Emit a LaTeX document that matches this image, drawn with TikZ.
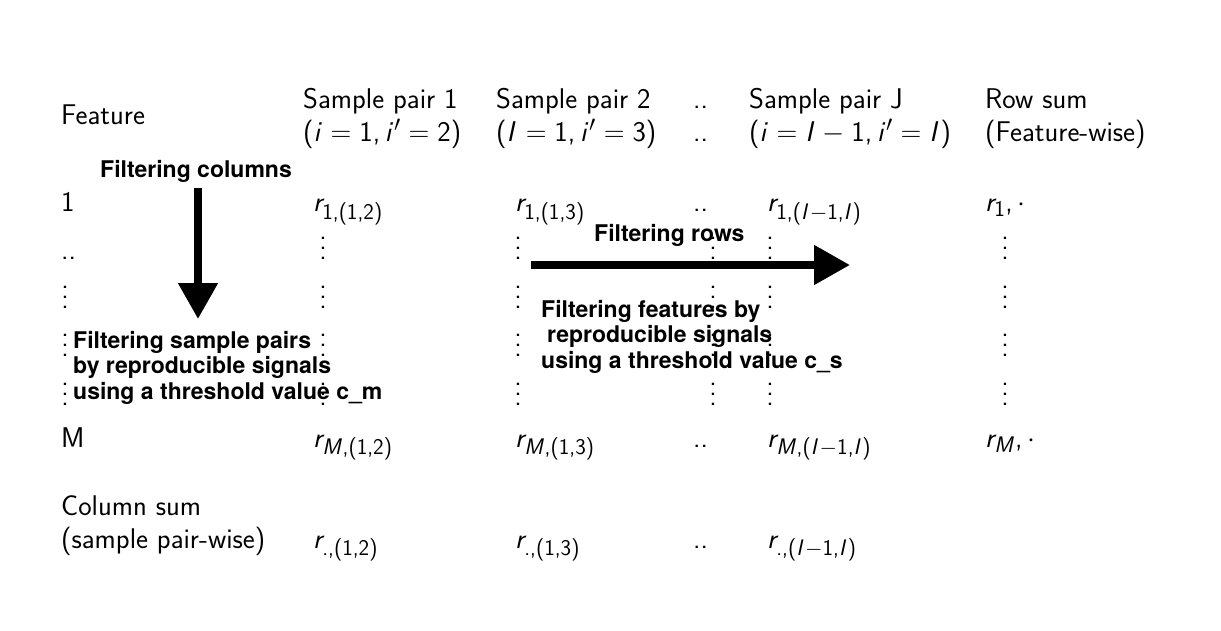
\documentclass[tikz,border=0pt]{standalone}
\usepackage{fix-cm}
\usepackage[no-math]{fontspec}
\usetikzlibrary{arrows.meta}
\newfontfamily\helv{TeX Gyre Heros}
% sans-serif math
\DeclareSymbolFont{sfops}{OT1}{cmss}{m}{n}
\DeclareSymbolFont{sflet}{OT1}{cmss}{m}{sl}
\SetSymbolFont{operators}{normal}{OT1}{cmss}{m}{n}
\DeclareMathSymbol{i}{\mathalpha}{sflet}{`i}
\DeclareMathSymbol{I}{\mathalpha}{sflet}{`I}
\DeclareMathSymbol{r}{\mathalpha}{sflet}{`r}
\DeclareMathSymbol{M}{\mathalpha}{sflet}{`M}
\DeclareMathSymbol{,}{\mathpunct}{sfops}{`,}
\DeclareMathSymbol{.}{\mathord}{sfops}{`.}
\DeclareMathSizes{28.5}{28.5}{22.5}{17}
\newcommand{\vdd}{\vbox{\baselineskip=10pt\lineskiplimit=-10pt\hbox{.}\hbox{.}\hbox{.}}}
\tikzset{
 tx/.style={anchor=base west, inner sep=0pt, font=\sffamily\fontsize{28.5}{33}\selectfont},
 lbl/.style={anchor=base west, inner sep=0pt, font=\helv\bfseries\fontsize{23}{26}\selectfont},
 vd/.style={inner sep=0pt, font=\sffamily\fontsize{28.5}{33}\selectfont},
 bigarrow/.style={line width=8pt, -{Triangle[length=36pt,width=38pt]}}
}
\begin{document}
\begin{tikzpicture}[x=1pt,y=-1pt]
\fill[white] (0,0) rectangle (1221,631);
\useasboundingbox (0,0) rectangle (1221,631);
% header
\node[tx] (feat) at (61,125) {Feature};
\node[tx] (h1a) at (303,109) {Sample pair 1};
\node[tx] (h1b) at (303,142) {$(i=1, i'=2)$};
\node[tx] (h2a) at (496,109) {Sample pair 2};
\node[tx] (h2b) at (496,142) {$(I=1, i'=3)$};
\node[tx] (hda) at (693,109) {..};
\node[tx] (hdb) at (693,142) {..};
\node[tx] (hja) at (749,109) {Sample pair J};
\node[tx] (hjb) at (749,142) {$(i=I-1, i'=I)$};
\node[tx] (hra) at (985,109) {Row sum};
\node[tx] (hrb) at (985,142) {(Feature-wise)};
% row 1
\node[tx] (f1) at (61,212) {1};
\node[tx] (r11) at (313,212) {$r_{1,(1,2)}$};
\node[tx] (r12) at (515,212) {$r_{1,(1,3)}$};
\node[tx] (r1d) at (693,212) {..};
\node[tx] (r1j) at (767,212) {$r_{1,(I-1,I)}$};
\node[tx] (r1s) at (985,212) {$r_{1},\cdot$};
% row 2 dots
\node[tx] (f2) at (61,259) {..};
% vertical dots
\foreach \c/\x in {a/323,b/518,c/713,d/770,e/1005}{
  \foreach \r/\y in {2/248,3/297,4/345,5/394}{
    \node[vd] (v\c\r) at (\x,\y) {\vdd};
  }
}
\foreach \r/\y in {3/297,4/345,5/394}{
  \node[vd] (vf\r) at (65,\y) {\vdd};
}
% row M
\node[tx] (fm) at (61,447) {M};
\node[tx] (rm1) at (313,447) {$r_{M,(1,2)}$};
\node[tx] (rm2) at (515,447) {$r_{M,(1,3)}$};
\node[tx] (rmd) at (693,447) {..};
\node[tx] (rmj) at (767,447) {$r_{M,(I-1,I)}$};
\node[tx] (rms) at (985,447) {$r_{M},\cdot$};
% column sums
\node[tx] (csa) at (61,515) {Column sum};
\node[tx] (csb) at (61,548) {(sample pair-wise)};
\node[tx] (rc1) at (313,548) {$r_{.,(1,2)}$};
\node[tx] (rc2) at (515,548) {$r_{.,(1,3)}$};
\node[tx] (rcd) at (693,548) {..};
\node[tx] (rcj) at (767,548) {$r_{.,(I-1,I)}$};
% labels
\node[lbl] (fc) at (100,178) {Filtering columns};
\node[lbl] (fr) at (594,242) {Filtering rows};
\node[lbl] (a1) at (73,348) {Filtering sample pairs};
\node[lbl] (a2) at (73,373) {by reproducible signals};
\node[lbl] (a3) at (73,399) {using a threshold value c\_m};
\node[lbl] (b1) at (541,317) {Filtering features by};
\node[lbl] (b2) at (547,342) {reproducible signals};
\node[lbl] (b3) at (541,368) {using a threshold value c\_s};
% arrows
\coordinate (vs) at (198,188);
\coordinate (ve) at (198,319);
\coordinate (hs) at (531,265);
\coordinate (he) at (850,265);
\draw[bigarrow] (vs) -- (ve);
\draw[bigarrow] (hs) -- (he);
\end{tikzpicture}
\end{document}
